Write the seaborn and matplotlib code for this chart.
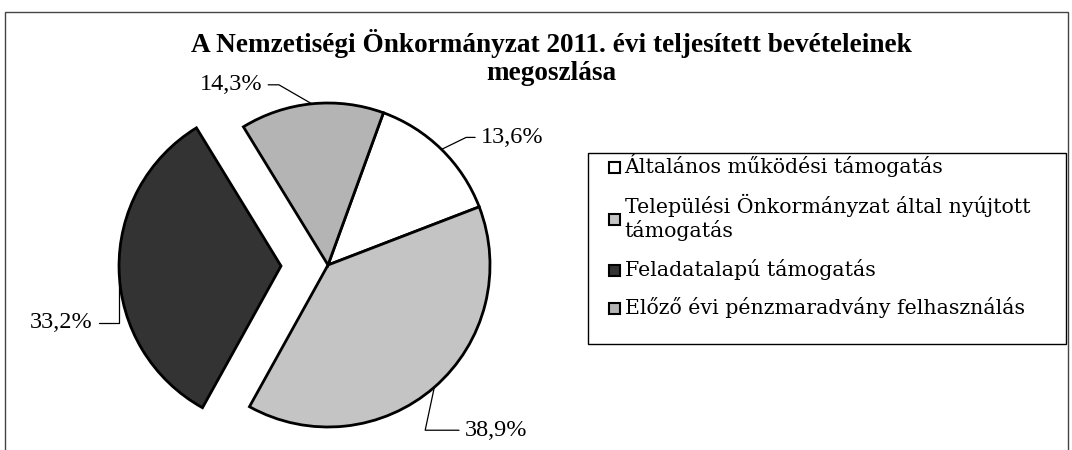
import numpy as np
import matplotlib.pyplot as plt
import matplotlib.patches as mpatches
import seaborn as sns

# --- Data ---
categories = ["Általános működési támogatás",
              "Települési Önkormányzat által nyújtott\ntámogatás",
              "Feladatalapú támogatás",
              "Előző évi pénzmaradvány felhasználás"]
shares = [13.6, 38.9, 33.2, 14.3]
share_labels = ["13,6%", "38,9%", "33,2%", "14,3%"]
title_lines = ["A Nemzetiségi Önkormányzat 2011. évi teljesített bevételeinek",
               "megoszlása"]

sns.set_theme(style="white")
plt.rcParams['font.family'] = ['Liberation Serif', 'DejaVu Serif']

colors = ["#ffffff", "#c4c4c4", "#333333", "#b4b4b4"]
explode = [0, 0, 0.29, 0]

W, H = 1072, 450
R = 162.0
cx, cy = 328, 265  # pie centre in pixels (from top-left)

fig = plt.figure(figsize=(W / 100, H / 100), dpi=100)
ax = fig.add_axes([0, 0, 1, 1])

wedges, _ = ax.pie(shares, colors=colors, explode=explode, startangle=70,
                   counterclock=False, radius=1,
                   wedgeprops=dict(edgecolor="black", linewidth=2.0))
ax.set_xlim(-cx / R, (W - cx) / R)
ax.set_ylim(-(H - cy) / R, cy / R)
ax.set_aspect("equal")
ax.axis("off")

# label text offsets (pixels) and leader line angles at the pie edge
offsets = [(71, 12), (62, -43), (-58, -53), (-81, 19)]
bends = [26, 78, 90, 150]
for w, lab, off, b in zip(wedges, share_labels, offsets, bends):
    mid = np.deg2rad((w.theta1 + w.theta2) / 2)
    x0, y0 = w.center
    ax.annotate(lab, xy=(x0 + np.cos(mid), y0 + np.sin(mid)),
                xytext=off, textcoords="offset pixels",
                ha="center", va="center", fontsize=17.5, color="black",
                arrowprops=dict(arrowstyle="-", color="black", lw=0.9,
                                shrinkA=2, shrinkB=0,
                                connectionstyle=f"angle,angleA=0,angleB={b},rad=0"))

# title, one text per line
for line, ypx in zip(title_lines, [43, 74]):
    fig.text(551 / W, 1 - ypx / H, line, ha="center", va="center",
             fontsize=19.6, fontweight="bold", color="black")

leg = ax.legend(wedges, categories, loc="upper left",
                bbox_to_anchor=(604 / W, 1 - 149 / H),
                bbox_transform=fig.transFigure,
                frameon=False, handlelength=0.75, handleheight=0.75,
                handletextpad=0.3, labelspacing=1.13, borderpad=0.3,
                borderaxespad=0)
for t in leg.get_texts():
    t.set_family(['DejaVu Serif'])
    t.set_fontsize(14.8)
    t.set_color("black")
for h in leg.legend_handles:
    h.set_linewidth(1.5)

# legend box
fig.patches.append(mpatches.Rectangle((588 / W, 1 - 344 / H), (1066 - 588) / W, (344 - 153) / H,
                                      transform=fig.transFigure, fill=False,
                                      edgecolor="black", linewidth=1.0))

# outer chart border
fig.patches.append(mpatches.Rectangle((5 / W, -0.05), (1068 - 5) / W, 1 - 12 / H + 0.05,
                                      transform=fig.transFigure, fill=False,
                                      edgecolor="#444444", linewidth=1.0, clip_on=False))

plt.savefig("out.png", dpi=100)
